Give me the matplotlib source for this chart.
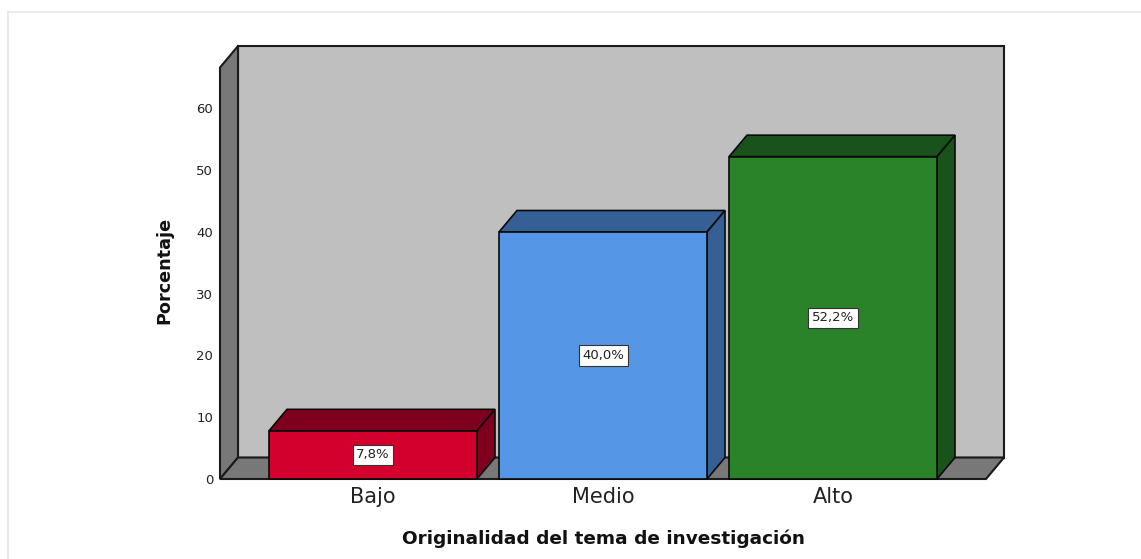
import matplotlib
matplotlib.use("Agg")
import matplotlib.pyplot as plt
from matplotlib.lines import Line2D

categories = ["Bajo", "Medio", "Alto"]
values = [7.8, 40.0, 52.2]
value_labels = ["7,8%", "40,0%", "52,2%"]
y_ticks = [0, 10, 20, 30, 40, 50, 60]

front_colors = ["#d3002d", "#5597e6", "#2a8329"]
dark_colors = ["#7f001e", "#355f95", "#19521a"]

W, H = 1141, 559
fig = plt.figure(figsize=(W / 100, H / 100), dpi=100)
fig.patch.set_facecolor("white")

# front plane of the 3d box, in pixels
left, right, bottom, top = 220, 986, 479, 67.5
ax = fig.add_axes([left / W, 1 - bottom / H, (right - left) / W, (bottom - top) / H])
ax.patch.set_alpha(0)
for s in ax.spines.values():
    s.set_visible(False)

px_x = 230.0
px_y = 6.175
ax.set_xlim((left - 373) / px_x, (right - 373) / px_x)
ax.set_ylim(0, (bottom - top) / px_y)
dx = 18 / px_x
dy = 21.5 / px_y
x0, x1 = ax.get_xlim()
y1 = ax.get_ylim()[1]

edge = "#1a1a1a"
wall = dict(edgecolor=edge, linewidth=1.5, joinstyle="miter", clip_on=False)
# back wall, side wall, floor
ax.fill([x0 + dx, x1 + dx, x1 + dx, x0 + dx], [dy, dy, y1 + dy, y1 + dy], facecolor="#bfbfbf", zorder=1, **wall)
ax.fill([x0, x0 + dx, x0 + dx, x0], [0, dy, y1 + dy, y1], facecolor="#787878", zorder=1, **wall)
ax.fill([x0, x1, x1 + dx, x0 + dx], [0, 0, dy, dy], facecolor="#787878", zorder=1, **wall)

bw = 208 / px_x
xs = list(range(len(categories)))
bar = dict(edgecolor="#0a0a0a", linewidth=1.2, joinstyle="miter", clip_on=False)
for x, v, fc, dc in zip(xs, values, front_colors, dark_colors):
    a, b = x - bw / 2, x + bw / 2
    ax.fill([a, b, b + dx, a + dx], [v, v, v + dy, v + dy], facecolor=dc, zorder=2, **bar)
    ax.fill([b, b + dx, b + dx, b], [0, dy, v + dy, v], facecolor=dc, zorder=2, **bar)
ax.bar(xs, values, width=bw, color=front_colors, edgecolor="#0a0a0a", linewidth=1.2, zorder=3, clip_on=False)

for x, v, lab in zip(xs, values, value_labels):
    ax.text(x, v / 2, lab, ha="center", va="center", fontsize=9.5, color="#222222", zorder=5,
            bbox=dict(boxstyle="square,pad=0.27", facecolor="white", edgecolor="#333333", linewidth=0.8))

ax.set_xticks(xs)
ax.set_xticklabels(categories, fontsize=15, color="#222222")
ax.set_yticks(y_ticks)
ax.set_yticklabels([str(t) for t in y_ticks], fontsize=9.5, color="#222222")
ax.tick_params(axis="both", length=0)
ax.tick_params(axis="x", pad=6)
ax.tick_params(axis="y", pad=5)

ax.set_xlabel("Originalidad del tema de investigación", fontsize=13.3, fontweight="bold", color="#111111")
ax.xaxis.set_label_coords((603.5 - left) / (right - left), -(539 - bottom) / (bottom - top))
ax.xaxis.label.set_va("center")
ax.set_ylabel("Porcentaje", fontsize=12.7, fontweight="bold", color="#111111")
ax.yaxis.set_label_coords((164 - left) / (right - left), (bottom - 270) / (bottom - top))
ax.yaxis.label.set_va("center")

# thin screenshot border at top and left
fig.add_artist(Line2D([8 / W, 8 / W], [0, 1 - 11.5 / H], color="#e6e6e6", lw=1.2))
fig.add_artist(Line2D([8 / W, 1], [1 - 11.5 / H, 1 - 11.5 / H], color="#e6e6e6", lw=1.2))

fig.savefig("out.png", dpi=100)
